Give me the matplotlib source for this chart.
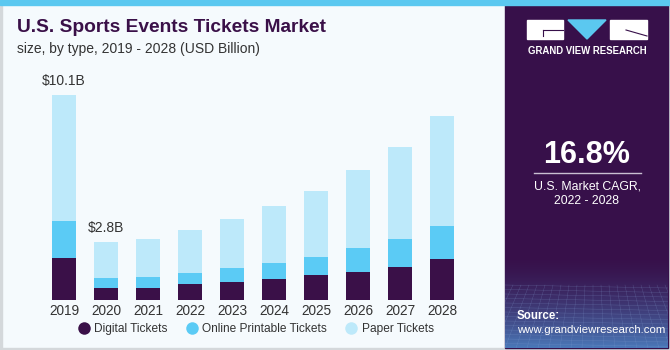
import numpy as np
import matplotlib
matplotlib.use('Agg')
import matplotlib.pyplot as plt
import matplotlib.patches as mpatches
from matplotlib.lines import Line2D

plt.rcParams['font.family'] = ['Liberation Sans', 'DejaVu Sans']

# ── data (USD Billion) ───────────────────────────────────────────────────────
years = ['2019', '2020', '2021', '2022', '2023', '2024', '2025', '2026', '2027', '2028']
digital = [2.08, 0.61, 0.61, 0.80, 0.89, 1.03, 1.22, 1.39, 1.64, 2.00]
online = [1.81, 0.46, 0.54, 0.51, 0.70, 0.80, 0.92, 1.18, 1.38, 1.63]
paper = [6.21, 1.77, 1.85, 2.14, 2.40, 2.79, 3.24, 3.82, 4.50, 5.43]
series_names = ['Digital Tickets', 'Online Printable Tickets', 'Paper Tickets']
value_labels = {0: '$10.1B', 1: '$2.8B'}

cagr = '16.8%'
cagr_text = 'U.S. Market CAGR,\n2022 - 2028'

col_digital = '#3A1048'
col_online = '#5BCBF5'
col_paper = '#BDE9FA'
col_bg = '#F5FAFD'
col_side = '#37104A'
col_title = '#3A1048'

W, H = 670, 350
fig = plt.figure(figsize=(W / 100, H / 100), dpi=100)

# ── background canvas in pixel coordinates ──────────────────────────────────
bg = fig.add_axes([0, 0, 1, 1])
bg.set_xlim(0, W)
bg.set_ylim(H, 0)
bg.axis('off')
bg.add_patch(mpatches.Rectangle((0, 0), W, H, color=col_bg, zorder=0))
bg.add_patch(mpatches.Rectangle((0, 0), 2, H, color='#D4D8DB', zorder=1))
bg.add_patch(mpatches.Rectangle((0, H - 2), W, 2, color='#D4D8DB', zorder=1))
bg.add_patch(mpatches.Rectangle((W - 2, 0), 2, H, color='#D4D8DB', zorder=1))

# sidebar with a soft gradient + faint grid at the bottom
side = mpatches.Rectangle((505, 0), W - 507, H - 2, color=col_side, zorder=1)
bg.add_patch(side)
grad = np.linspace(0, 1, 100)[:, None]
c0 = np.array(matplotlib.colors.to_rgb(col_side))
c1 = np.array(matplotlib.colors.to_rgb('#4A78B8'))
img = c0 + (c1 - c0) * (grad ** 1.6)[:, :, None]
bg.imshow(img, extent=(505, W - 2, H - 2, 255), aspect='auto', zorder=2)
for k in range(14):
    yy = 285 + k * 4.5
    ln, = bg.plot([505, W - 2], [yy, yy + 3], color='#8AA6D8', lw=0.3, alpha=0.35, zorder=3)
    ln.set_clip_path(side)
for k in range(22):
    xx = 505 + k * 8
    ln, = bg.plot([xx, xx + (k - 11) * 3], [285, H - 2], color='#8AA6D8', lw=0.3,
                  alpha=0.35, zorder=3)
    ln.set_clip_path(side)
# top strip
bg.add_patch(mpatches.Rectangle((0, 0), W, 5, color='#5BC8F0', zorder=4))

# logo
bg.add_patch(mpatches.Rectangle((527, 20), 36, 19, color='white', zorder=5))
bg.plot([543, 563], [30, 30], color=col_side, lw=0.8, zorder=6)
bg.plot([543, 543], [30, 36], color=col_side, lw=0.8, zorder=6)
bg.add_patch(mpatches.Polygon([(568, 20), (606, 20), (587, 39)], color='#5BC8F0', zorder=5))
bg.add_patch(mpatches.Rectangle((610, 20), 37, 19, color='white', zorder=5))
bg.plot([626, 647], [30, 36], color=col_side, lw=0.8, zorder=6)
bg.text(587, 51, 'GRAND VIEW RESEARCH', color='white', fontsize=6.9, fontweight='bold',
        ha='center', va='center', zorder=6)

# CAGR block
bg.text(587, 155, cagr, color='white', fontsize=22, fontweight='bold',
        ha='center', va='center', zorder=6)
bg.plot([534, 641], [173, 173], color='#C9BFD2', lw=1, zorder=6)
bg.text(587, 194, cagr_text, color='white', fontsize=8.8, ha='center', va='center',
        linespacing=1.3, zorder=6)
bg.text(517, 316, 'Source:', color='white', fontsize=8.3, fontweight='bold',
        ha='left', va='center', zorder=6)
bg.text(517, 330, 'www.grandviewresearch.com', color='white', fontsize=8.2,
        ha='left', va='center', zorder=6)

# titles
bg.text(17, 27, 'U.S. Sports Events Tickets Market', color=col_title, fontsize=13.8,
        fontweight='bold', ha='left', va='center', zorder=6)
bg.text(17, 49, 'size, by type, 2019 - 2028 (USD Billion)', color='#333333', fontsize=10,
        ha='left', va='center', zorder=6)

# ── bar chart ────────────────────────────────────────────────────────────────
# x pixel = 64 + 42*i ; baseline at y=300, 20.3 px per billion
x0_lim, x1_lim = -0.8, 9.8
px_left = 64 + 42 * x0_lim
px_right = 64 + 42 * x1_lim
y_top = 10.5
px_top = 300 - 20.3 * y_top
ax = fig.add_axes([px_left / W, (H - 300) / H, (px_right - px_left) / W, (300 - px_top) / H])
ax.set_facecolor('none')
ax.set_xlim(x0_lim, x1_lim)
ax.set_ylim(0, y_top)
for s in ax.spines.values():
    s.set_visible(False)
ax.set_yticks([])

x = np.arange(len(years))
d = np.array(digital)
o = np.array(online)
p = np.array(paper)
bw = 24 / 42
ax.bar(x, d, width=bw, color=col_digital, label=series_names[0])
ax.bar(x, o, width=bw, bottom=d, color=col_online, label=series_names[1])
ax.bar(x, p, width=bw, bottom=d + o, color=col_paper, label=series_names[2])
ax.set_xticks(x)
ax.set_xticklabels(years, fontsize=9.8, color='#333333')
ax.tick_params(axis='x', length=0, pad=3)

tot = d + o + p
for i, lab in value_labels.items():
    ax.text(x[i], tot[i] + 0.35, lab, ha='center', va='bottom', fontsize=10, color='#333333')

handles = [Line2D([0], [0], marker='o', color='none', markerfacecolor=c, markeredgecolor='none',
                  markersize=9) for c in (col_digital, col_online, col_paper)]
fig.legend(handles, series_names, loc='center', bbox_to_anchor=(254 / W, (H - 329) / H),
           ncol=3, frameon=False, fontsize=8.6, handletextpad=0.1, columnspacing=1.2,
           handlelength=1.6, labelcolor='#333333')

fig.savefig('out.png', dpi=100)
